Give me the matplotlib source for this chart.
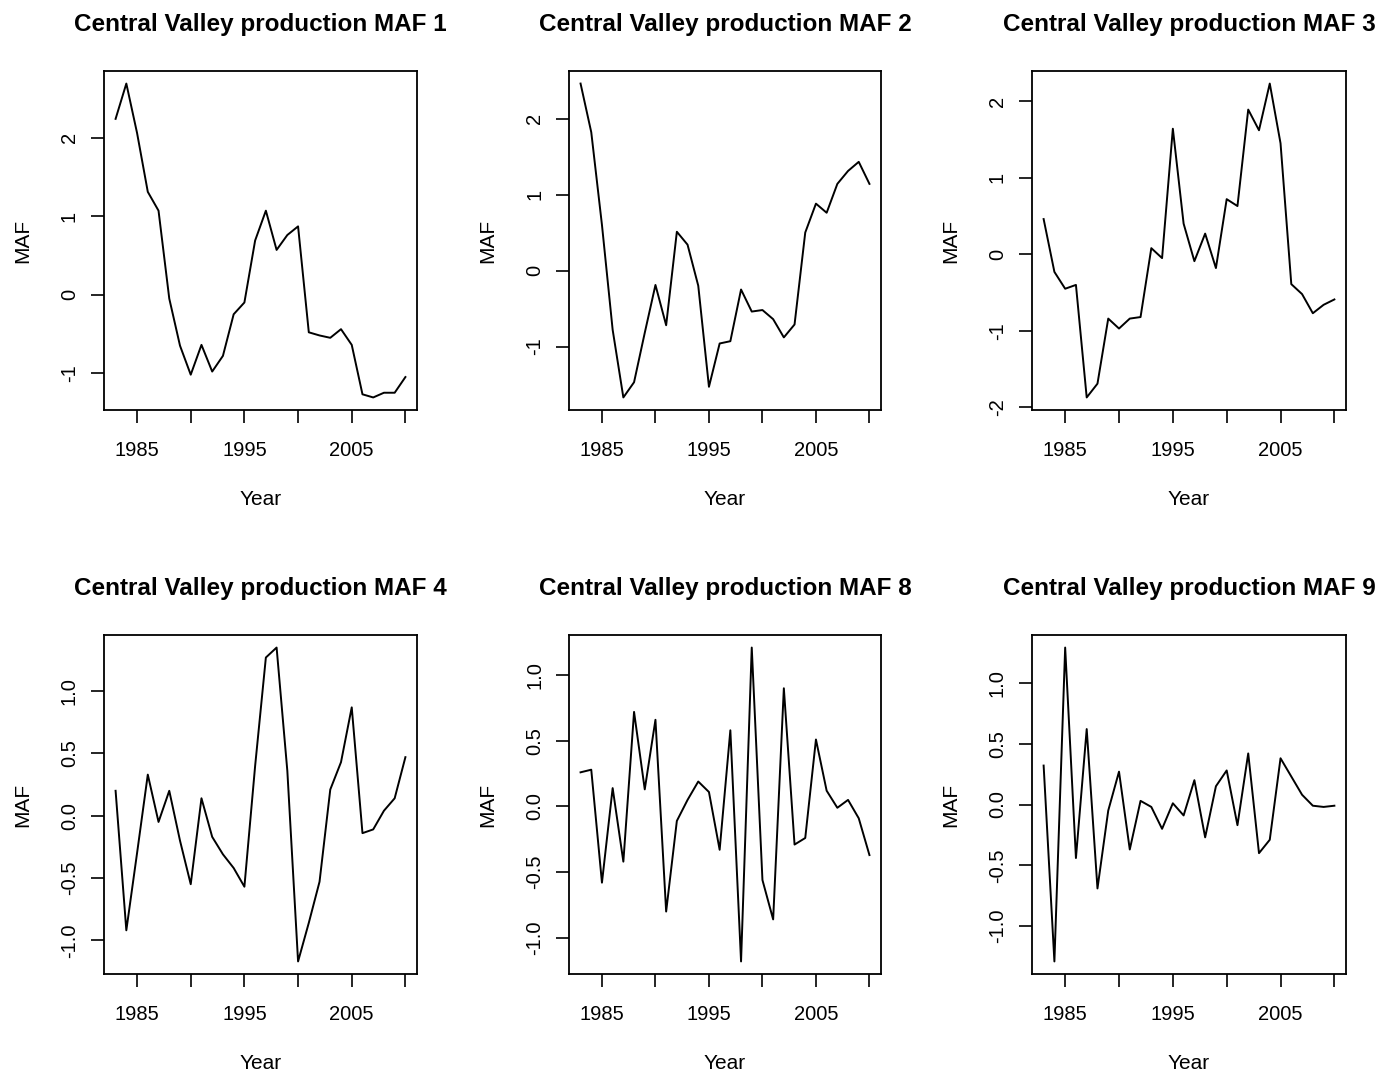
import matplotlib
matplotlib.use("Agg")
import matplotlib.pyplot as plt

years = list(range(1983, 2011))

maf1 = [2.24, 2.69, 2.06, 1.31, 1.07, -0.05, -0.65, -1.02, -0.64, -0.98,
        -0.78, -0.25, -0.10, 0.69, 1.07, 0.57, 0.76, 0.87, -0.48, -0.52,
        -0.55, -0.44, -0.64, -1.27, -1.31, -1.25, -1.25, -1.05]
maf2 = [2.46, 1.82, 0.60, -0.78, -1.67, -1.47, -0.82, -0.19, -0.72, 0.51,
        0.34, -0.20, -1.53, -0.96, -0.93, -0.25, -0.54, -0.52, -0.64, -0.88,
        -0.71, 0.50, 0.88, 0.76, 1.14, 1.31, 1.43, 1.14]
maf3 = [0.46, -0.23, -0.45, -0.40, -1.87, -1.69, -0.84, -0.97, -0.84, -0.82,
        0.08, -0.05, 1.64, 0.40, -0.09, 0.27, -0.18, 0.72, 0.63, 1.89,
        1.62, 2.23, 1.45, -0.39, -0.52, -0.77, -0.66, -0.59]
maf4 = [0.20, -0.92, -0.30, 0.33, -0.05, 0.20, -0.20, -0.55, 0.14, -0.17,
        -0.31, -0.42, -0.57, 0.40, 1.27, 1.35, 0.36, -1.17, -0.86, -0.53,
        0.21, 0.43, 0.87, -0.14, -0.11, 0.04, 0.14, 0.47]
maf8 = [0.26, 0.28, -0.58, 0.14, -0.42, 0.72, 0.13, 0.66, -0.80, -0.11,
        0.05, 0.19, 0.11, -0.33, 0.58, -1.18, 1.21, -0.56, -0.86, 0.90,
        -0.29, -0.24, 0.51, 0.12, -0.01, 0.05, -0.09, -0.37]
maf9 = [0.32, -1.29, 1.29, -0.44, 0.62, -0.69, -0.05, 0.27, -0.37, 0.03,
        -0.02, -0.20, 0.01, -0.09, 0.20, -0.27, 0.15, 0.28, -0.17, 0.42,
        -0.40, -0.29, 0.38, 0.23, 0.08, -0.01, -0.02, -0.01]

titles = ["Central Valley production MAF 1", "Central Valley production MAF 2",
          "Central Valley production MAF 3", "Central Valley production MAF 4",
          "Central Valley production MAF 8", "Central Valley production MAF 9"]
series = [maf1, maf2, maf3, maf4, maf8, maf9]

xticks = [1985, 1990, 1995, 2000, 2005, 2010]
xticklabels = ["1985", "", "1995", "", "2005", ""]
yticks_list = [[-1, 0, 1, 2], [-1, 0, 1, 2], [-2, -1, 0, 1, 2],
               [-1.0, -0.5, 0.0, 0.5, 1.0], [-1.0, -0.5, 0.0, 0.5, 1.0],
               [-1.0, -0.5, 0.0, 0.5, 1.0]]
yticklabels_list = [["-1", "0", "1", "2"], ["-1", "0", "1", "2"],
                    ["-2", "-1", "0", "1", "2"],
                    ["-1.0", "-0.5", "0.0", "0.5", "1.0"],
                    ["-1.0", "-0.5", "0.0", "0.5", "1.0"],
                    ["-1.0", "-0.5", "0.0", "0.5", "1.0"]]

plt.rcParams['font.family'] = ['Liberation Sans', 'DejaVu Sans']

W, H = 1380, 1071
fig = plt.figure(figsize=(W / 100, H / 100), dpi=100)

lefts = [104, 569, 1032]
widths = [313, 312, 314]
tops = [71, 635]
hgt = 339

for i in range(6):
    r, c = divmod(i, 3)
    l = lefts[c]
    w = widths[c]
    t = tops[r]
    ax = fig.add_axes([l / W, (H - t - hgt) / H, w / W, hgt / H])
    ax.plot(years, series[i], color='black', linewidth=1.4)
    ax.margins(x=0.04, y=0.04)
    ax.set_xticks(xticks)
    ax.set_xticklabels(xticklabels)
    ax.set_yticks(yticks_list[i])
    ax.set_yticklabels(yticklabels_list[i])
    for s in ax.spines.values():
        s.set_linewidth(1.3)
    ax.tick_params(axis='both', length=9.5, width=1.2, labelsize=14.5, color='black')
    ax.tick_params(axis='x', pad=12.5)
    ax.tick_params(axis='y', pad=8.5, labelrotation=90)
    for lab in ax.get_yticklabels():
        lab.set_verticalalignment('center')
    ax.set_title(titles[i], fontsize=17.5, fontweight='bold', pad=29)
    ax.set_xlabel("Year", fontsize=15)
    ax.set_ylabel("MAF", fontsize=15)
    ax.xaxis.label.set_verticalalignment('baseline')
    ax.xaxis.set_label_coords(0.5, -95 / hgt)
    ax.yaxis.label.set_verticalalignment('baseline')
    ax.yaxis.set_label_coords(-76 / w, 0.5)

fig.savefig("out.png", dpi=100, facecolor='white')
